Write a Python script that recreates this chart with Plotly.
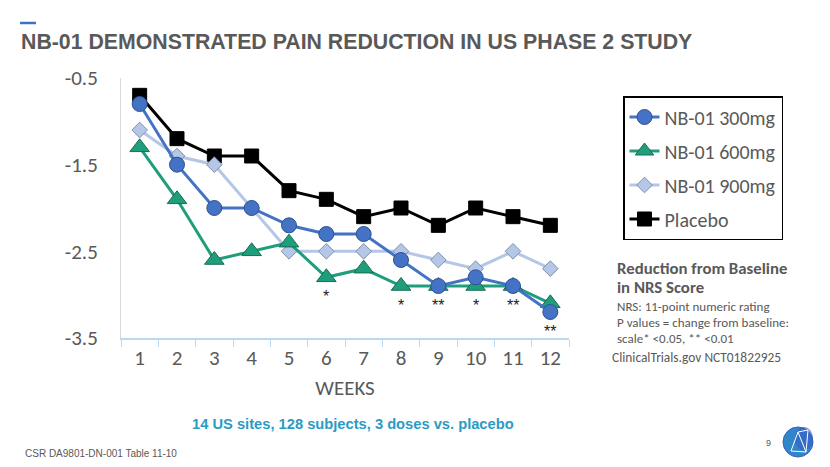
import plotly.graph_objects as go

weeks = [str(w) for w in range(1, 13)]
nb300 = [-0.8, -1.5, -2.0, -2.0, -2.2, -2.3, -2.3, -2.6, -2.9, -2.8, -2.9, -3.2]
nb600 = [-1.3, -1.9, -2.6, -2.5, -2.4, -2.8, -2.7, -2.9, -2.9, -2.9, -2.9, -3.1]
nb900 = [-1.1, -1.4, -1.5, -2.0, -2.5, -2.5, -2.5, -2.5, -2.6, -2.7, -2.5, -2.7]
placebo = [-0.7, -1.2, -1.4, -1.4, -1.8, -1.9, -2.1, -2.0, -2.2, -2.0, -2.1, -2.2]
y_ticks = [-0.5, -1.5, -2.5, -3.5]
sig_weeks = ["6", "8", "9", "10", "11", "12"]
sig_labels = ["*", "*", "**", "*", "**", "**"]

note_bold = ["Reduction from Baseline", "in NRS Score"]
note_small = ["NRS: 11-point numeric rating", "P values = change from baseline:", "scale* &lt;0.05, ** &lt;0.01"]

CAL = "Carlito, Calibri, Lato, sans-serif"
GRAY = "#595959"

# page body has an 8px margin; the figure is sized so it fits the 830x467 window
W, H = 822, 459
OFF = 8

fig = go.Figure()
series = [
    ("NB-01 300mg", nb300, "#4472c4", dict(symbol="circle", size=15, color="#4472c4", line=dict(color="#2f528f", width=1))),
    ("NB-01 600mg", nb600, "#1f9e7c", dict(symbol="triangle-up", size=17, color="#1f9e7c", line=dict(color="#1a6b54", width=1))),
    ("NB-01 900mg", nb900, "#b4c7e7", dict(symbol="diamond", size=12, color="#b4c7e7", line=dict(color="#7f8fa9", width=1))),
    ("Placebo", placebo, "#000000", dict(symbol="square", size=14, color="#000000", line=dict(color="#000000", width=1))),
]
order = [3, 2, 1, 0]
traces = {}
for i, (name, vals, col, mk) in enumerate(series):
    traces[i] = go.Scatter(x=weeks, y=vals, name=name, mode="lines+markers",
                           line=dict(color=col, width=3), marker=mk,
                           legendrank=i + 1, legendgroup=f"g{i}")
for i in order:
    fig.add_trace(traces[i])

# significance asterisks below lowest point of each week
for wk, lab in zip(sig_weeks, sig_labels):
    idx = weeks.index(wk)
    low = min(nb300[idx], nb600[idx], nb900[idx], placebo[idx])
    fig.add_annotation(x=idx, y=low, text=lab, showarrow=False, yshift=-19,
                       font=dict(family="Liberation Sans, Arial", size=16, color="#222222"))

fig.update_layout(
    width=W, height=H,
    margin=dict(l=121 - OFF, r=W - (569 - OFF), t=78 - OFF, b=H - (338 - OFF), autoexpand=False),
    paper_bgcolor="white", plot_bgcolor="white",
    showlegend=True,
    legend=dict(x=(623 - 121) / 448, y=(338 - 96) / 260, xanchor="left", yanchor="top",
                bordercolor="#000000", borderwidth=1.5,
                font=dict(family=CAL, size=20, color=GRAY),
                tracegroupgap=5, itemwidth=30,
                traceorder="grouped"),
    xaxis=dict(type="category", range=[-0.5, 11.5], showgrid=False,
               showline=True, linecolor="#bdd7ee", linewidth=1.5,
               ticks="outside", tickson="boundaries", ticklen=7, tickcolor="#bdd7ee",
               tickfont=dict(family=CAL, size=21, color=GRAY),
               title=dict(text="WEEKS", font=dict(family=CAL, size=21, color=GRAY), standoff=10)),
    yaxis=dict(range=[-3.5, -0.5], tickvals=y_ticks, ticktext=[str(v) for v in y_ticks],
               showgrid=False, zeroline=False, showline=True, linecolor="#d9d9d9", linewidth=1,
               tickfont=dict(family=CAL, size=21, color=GRAY), ticks="", ticklabelstandoff=18),
)


def pap_x(px):
    return (px - 121) / 448


def pap_y(py):
    return (338 - py) / 260


# title & accent
fig.add_shape(type="line", xref="paper", yref="paper", x0=pap_x(20), x1=pap_x(36),
              y0=pap_y(23), y1=pap_y(23), line=dict(color="#3a75c4", width=2.5))
fig.add_annotation(xref="paper", yref="paper", x=pap_x(19), y=pap_y(42),
                   xanchor="left", yanchor="middle", showarrow=False,
                   text="<b>NB-01 DEMONSTRATED PAIN REDUCTION IN US PHASE 2 STUDY</b>",
                   font=dict(family="Liberation Sans Narrow, Arial Narrow, Liberation Sans", size=21.3, color=GRAY))

# right-side notes
for txt, py in zip(note_bold, [268, 287.5]):
    fig.add_annotation(xref="paper", yref="paper", x=pap_x(616), y=pap_y(py), xanchor="left", yanchor="middle",
                       showarrow=False, text=f"<b>{txt}</b>", borderpad=0,
                       font=dict(family=CAL, size=16.8, color=GRAY))
for txt, py in zip(note_small, [306, 322, 338]):
    fig.add_annotation(xref="paper", yref="paper", x=pap_x(616), y=pap_y(py), xanchor="left", yanchor="middle",
                       showarrow=False, text=txt, borderpad=0,
                       font=dict(family=CAL, size=13, color=GRAY))
fig.add_annotation(xref="paper", yref="paper", x=pap_x(611), y=pap_y(357), xanchor="left", yanchor="middle",
                   showarrow=False, text="ClinicalTrials.gov NCT01822925", borderpad=0,
                   font=dict(family=CAL, size=13.4, color=GRAY))

# bottom texts
fig.add_annotation(xref="paper", yref="paper", x=pap_x(353), y=pap_y(424), xanchor="center", yanchor="middle",
                   showarrow=False, text="<b>14 US sites, 128 subjects, 3 doses vs. placebo</b>",
                   font=dict(family="Liberation Sans, Arial", size=14.7, color="#2a9bc4"))
fig.add_annotation(xref="paper", yref="paper", x=pap_x(23), y=pap_y(453), xanchor="left", yanchor="middle",
                   showarrow=False, text="CSR DA9801-DN-001 Table 11-10",
                   font=dict(family="Liberation Sans, Arial", size=10, color=GRAY))
fig.add_annotation(xref="paper", yref="paper", x=pap_x(768), y=pap_y(443), xanchor="center", yanchor="middle",
                   showarrow=False, text="9",
                   font=dict(family="Liberation Sans, Arial", size=9, color=GRAY))

# logo
fig.add_shape(type="circle", xref="paper", yref="paper",
              x0=pap_x(783), x1=pap_x(813), y0=pap_y(457), y1=pap_y(427),
              fillcolor="#2f86c8", line=dict(color="#3a5fc0", width=1))
fig.add_shape(type="circle", xref="paper", yref="paper",
              x0=pap_x(795), x1=pap_x(813), y0=pap_y(450), y1=pap_y(427),
              fillcolor="#3b5cc4", line=dict(width=0), opacity=0.6)
for (a, b), (c, d) in [((791, 451), (798, 432)), ((798, 432), (806, 452)), ((791, 451), (806, 452)),
                       ((798, 432), (808, 430)), ((808, 430), (806, 452))]:
    fig.add_shape(type="line", xref="paper", yref="paper", x0=pap_x(a), y0=pap_y(b), x1=pap_x(c), y1=pap_y(d),
                  line=dict(color="white", width=1))

fig.write_html("out.html")
